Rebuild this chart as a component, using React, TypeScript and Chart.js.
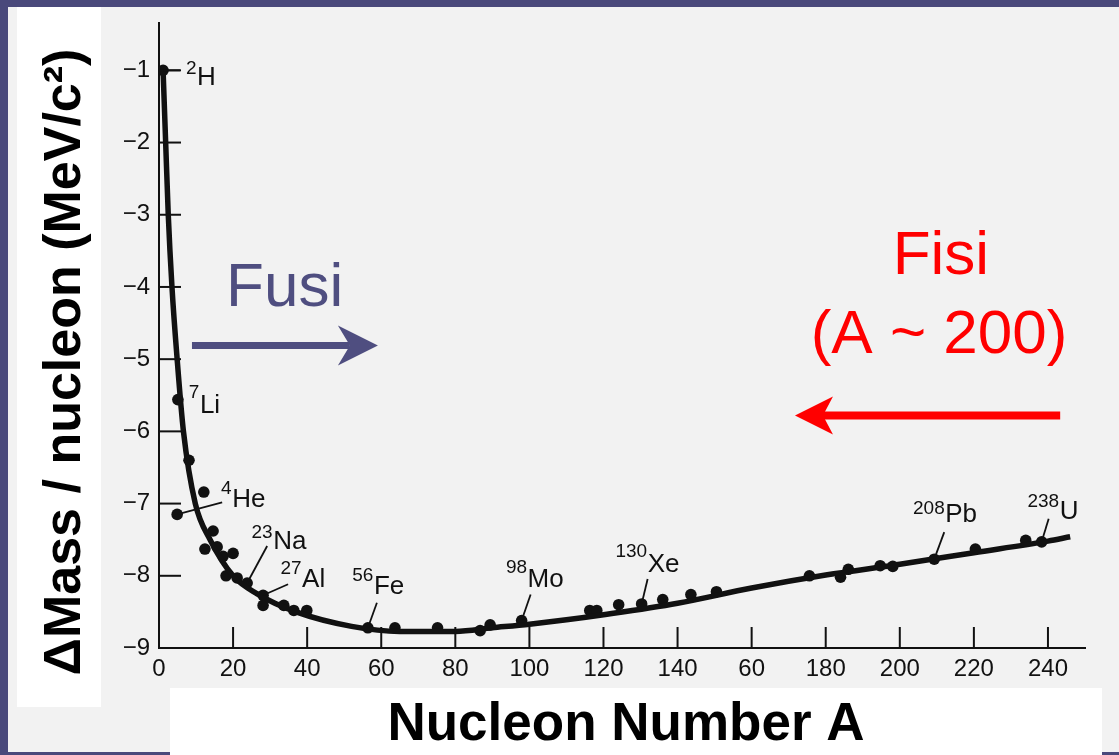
import React, { useEffect, useRef } from 'react';
import { Chart, registerables } from 'chart.js';

Chart.register(...registerables);

const FONT = '"Liberation Sans", Arial, Helvetica, sans-serif';

// smooth fitted curve: nucleon number A vs mass defect per nucleon (MeV/c^2)
const curveA = [1.1, 1.8, 2.5, 3.5, 4.9, 6.6, 9.8, 13.8, 20, 26.5, 37, 52, 65, 80, 90, 100, 110, 120, 140, 160, 180, 200, 220, 240, 246];
const curveM = [-1.0, -2, -3, -4, -5, -6, -7, -7.5, -8.0, -8.25, -8.5, -8.7, -8.77, -8.77, -8.72, -8.67, -8.61, -8.54, -8.38, -8.17, -7.99, -7.84, -7.68, -7.52, -7.46];

// measured nuclides
const pointA = [1.1, 5.1, 8.1, 12.1, 4.9, 14.6, 12.4, 15.7, 17.3, 20.0, 18.1, 21.1, 23.8, 28.1, 28.1, 33.7, 36.4, 39.9, 56.4, 63.7, 75.2, 86.7, 89.4, 97.9, 116.3, 118.2, 124.1, 130.3, 136, 143.6, 150.5, 175.6, 184, 186.1, 194.7, 198.1, 209.3, 220.4, 234, 238.3];
const pointM = [-1.0, -5.56, -6.40, -6.84, -7.15, -7.38, -7.63, -7.60, -7.73, -7.69, -8.00, -8.03, -8.10, -8.27, -8.41, -8.41, -8.48, -8.48, -8.72, -8.72, -8.72, -8.76, -8.68, -8.62, -8.48, -8.48, -8.40, -8.39, -8.33, -8.26, -8.22, -8.00, -8.02, -7.91, -7.86, -7.87, -7.77, -7.63, -7.51, -7.53];

const xTickLabels = ['0', '20', '40', '60', '80', '100', '120', '140', '60', '180', '200', '220', '240'];
const yTickLabels = ['\u22129', '\u22128', '\u22127', '\u22126', '\u22125', '\u22124', '\u22123', '\u22122', '\u22121'];

// labelled nuclides
const isotopeMass = ['2', '7', '4', '23', '27', '56', '98', '130', '208', '238'];
const isotopeSymbol = ['H', 'Li', 'He', 'Na', 'Al', 'Fe', 'Mo', 'Xe', 'Pb', 'U'];
const isotopeA = [1.1, 5.1, 4.9, 23.8, 28.1, 56.4, 97.9, 130.3, 209.3, 238.3];
const isotopeM = [-1.0, -5.56, -7.15, -8.10, -8.27, -8.72, -8.62, -8.39, -7.77, -7.53];

// label layout: pixel offsets from the labelled point (leader end, superscript baseline, symbol left/baseline)
const labelLayout = [
  { lead: [17, 0], supY: 4, sym: [34, 15] },
  { lead: null, supY: -2, sym: [22, 13] },
  { lead: [45, -12], supY: -20, sym: [55, -7] },
  { lead: [20, -37], supY: -45, sym: [26, -34] },
  { lead: [25, -11], supY: -21, sym: [39, -8] },
  { lead: [9, -25], supY: -47, sym: [6, -34] },
  { lead: [9, -26], supY: -48, sym: [6, -34] },
  { lead: [6, -25], supY: -47, sym: [6, -32] },
  { lead: [10, -27], supY: -45, sym: [11, -37] },
  { lead: [7, -23], supY: -35, sym: [18, -23] },
];

// overlay annotations (data units)
const fusionText = { text: 'Fusi', A: 18.1, M: -4.26 };
const fusionArrow = { fromA: 8.9, toA: 59.1, M: -4.81 };
const fissionText = { text: 'Fisi', A: 211.1, M: -3.82 };
const fissionSub = { text: '(A ~ 200)', A: 210.6, M: -4.92 };
const fissionArrow = { fromA: 243.3, toA: 171.7, M: -5.78 };

const SLATE = '#4f4e80';
const RED = '#ff0000';

function drawArrow(ctx: CanvasRenderingContext2D, x1: number, y: number, x2: number, color: string, lw: number, headLen: number, headHalf: number, notch: number) {
  const dir = Math.sign(x2 - x1);
  ctx.strokeStyle = color;
  ctx.lineWidth = lw;
  ctx.lineCap = 'butt';
  ctx.beginPath();
  ctx.moveTo(x1, y);
  ctx.lineTo(x2 - dir * (headLen - notch), y);
  ctx.stroke();
  ctx.fillStyle = color;
  ctx.beginPath();
  ctx.moveTo(x2, y);
  ctx.lineTo(x2 - dir * headLen, y - headHalf);
  ctx.lineTo(x2 - dir * (headLen - notch), y);
  ctx.lineTo(x2 - dir * headLen, y + headHalf);
  ctx.closePath();
  ctx.fill();
}

const decorPlugin = {
  id: 'decor',
  beforeDraw(chart: any) {
    const ctx: CanvasRenderingContext2D = chart.ctx;
    const W = chart.width;
    const H = chart.height;
    ctx.save();
    ctx.fillStyle = '#4a497b';
    ctx.fillRect(0, 0, W, H);
    ctx.fillStyle = '#f2f2f2';
    ctx.fillRect(8, 7, W - 8, 745);
    ctx.fillStyle = '#ffffff';
    ctx.fillRect(17, 7, 84, 700);
    ctx.fillRect(170, 688, 932, 67);
    ctx.restore();
  },
  afterDraw(chart: any) {
    const ctx: CanvasRenderingContext2D = chart.ctx;
    const area = chart.chartArea;
    const xs = chart.scales.x;
    const ys = chart.scales.y;
    ctx.save();
    // inward tick marks
    ctx.strokeStyle = '#111';
    ctx.lineWidth = 2;
    ys.ticks.forEach((t: any) => {
      if (t.value <= -9) return;
      const py = ys.getPixelForValue(t.value);
      ctx.beginPath();
      ctx.moveTo(area.left, py);
      ctx.lineTo(area.left + 22, py);
      ctx.stroke();
    });
    xs.ticks.forEach((t: any) => {
      if (t.value <= 0) return;
      const px = xs.getPixelForValue(t.value);
      ctx.beginPath();
      ctx.moveTo(px, area.bottom);
      ctx.lineTo(px, area.bottom - 21);
      ctx.stroke();
    });

    // nuclide labels
    ctx.fillStyle = '#111';
    ctx.textBaseline = 'alphabetic';
    ctx.textAlign = 'left';
    isotopeA.forEach((a, i) => {
      const px = xs.getPixelForValue(a);
      const py = ys.getPixelForValue(isotopeM[i]);
      const L = labelLayout[i];
      if (L.lead) {
        ctx.lineWidth = 1.8;
        ctx.beginPath();
        ctx.moveTo(px, py);
        ctx.lineTo(px + L.lead[0], py + L.lead[1]);
        ctx.stroke();
      }
      const symX = px + L.sym[0];
      ctx.font = `19px ${FONT}`;
      const w = ctx.measureText(isotopeMass[i]).width;
      ctx.fillText(isotopeMass[i], symX - w - 0.5, py + L.supY);
      ctx.font = `26px ${FONT}`;
      ctx.fillText(isotopeSymbol[i], symX, py + L.sym[1]);
    });

    // fusion / fission overlays
    ctx.font = `62px ${FONT}`;
    ctx.fillStyle = SLATE;
    ctx.textAlign = 'left';
    ctx.fillText(fusionText.text, xs.getPixelForValue(fusionText.A), ys.getPixelForValue(fusionText.M));
    drawArrow(ctx, xs.getPixelForValue(fusionArrow.fromA), ys.getPixelForValue(fusionArrow.M), xs.getPixelForValue(fusionArrow.toA), SLATE, 7, 40, 20, 12);

    ctx.fillStyle = RED;
    ctx.textAlign = 'center';
    ctx.fillText(fissionText.text, xs.getPixelForValue(fissionText.A), ys.getPixelForValue(fissionText.M));
    ctx.fillText(fissionSub.text, xs.getPixelForValue(fissionSub.A), ys.getPixelForValue(fissionSub.M));
    drawArrow(ctx, xs.getPixelForValue(fissionArrow.fromA), ys.getPixelForValue(fissionArrow.M), xs.getPixelForValue(fissionArrow.toA), RED, 8, 38, 19, 10);

    // axis titles
    ctx.fillStyle = '#000';
    ctx.font = `bold 53px ${FONT}`;
    ctx.textAlign = 'center';
    ctx.fillText('Nucleon Number A', 626, 740);
    ctx.save();
    ctx.translate(80, 362);
    ctx.rotate(-Math.PI / 2);
    ctx.font = `bold 52px ${FONT}`;
    ctx.fillText('\u0394Mass / nucleon (MeV/c\u00b2)', 0, 0);
    ctx.restore();

    ctx.restore();
  },
};

export default function App() {
  const canvasRef = useRef<HTMLCanvasElement | null>(null);

  useEffect(() => {
    document.body.style.margin = '0';
    const canvas = canvasRef.current;
    if (!canvas) return;
    const chart = new Chart(canvas, {
      type: 'scatter',
      data: {
        datasets: [
          {
            label: 'fit',
            data: curveA.map((a, i) => ({ x: a, y: curveM[i] })),
            showLine: true,
            borderColor: '#111',
            borderWidth: 5.5,
            pointRadius: 0,
            fill: false,
            cubicInterpolationMode: 'monotone',
          } as any,
          {
            label: 'nuclides',
            data: pointA.map((a, i) => ({ x: a, y: pointM[i] })),
            backgroundColor: '#111',
            borderWidth: 0,
            pointRadius: 5.8,
          },
        ],
      },
      options: {
        animation: false,
        responsive: false,
        devicePixelRatio: 1,
        events: [],
        layout: { padding: { top: 8, right: 34, left: 0, bottom: 0 } },
        plugins: { legend: { display: false }, tooltip: { enabled: false }, title: { display: false } },
        scales: {
          x: {
            type: 'linear',
            min: 0,
            max: 250,
            afterFit: (s: any) => { s.height = 107; },
            grid: { display: true, drawOnChartArea: false, drawTicks: false },
            border: { display: true, color: '#111', width: 2 },
            ticks: {
              stepSize: 20,
              includeBounds: false,
              autoSkip: false,
              maxRotation: 0,
              padding: 7,
              color: '#111',
              font: { family: FONT, size: 24 },
              callback: (_v: any, i: number) => xTickLabels[i],
            },
          },
          y: {
            type: 'linear',
            min: -9,
            max: -0.35,
            afterFit: (s: any) => { s.width = 159; },
            grid: { display: true, drawOnChartArea: false, drawTicks: false },
            border: { display: true, color: '#111', width: 2 },
            ticks: {
              stepSize: 1,
              includeBounds: false,
              padding: 9,
              color: '#111',
              font: { family: FONT, size: 24 },
              callback: (_v: any, i: number) => yTickLabels[i],
            },
          },
        },
      },
      plugins: [decorPlugin],
    });
    return () => chart.destroy();
  }, []);

  return (
    <div style={{ position: 'fixed', left: 0, top: 0, width: 1119, height: 755 }}>
      <canvas ref={canvasRef} width={1119} height={755} style={{ display: 'block', width: 1119, height: 755 }} />
    </div>
  );
}
